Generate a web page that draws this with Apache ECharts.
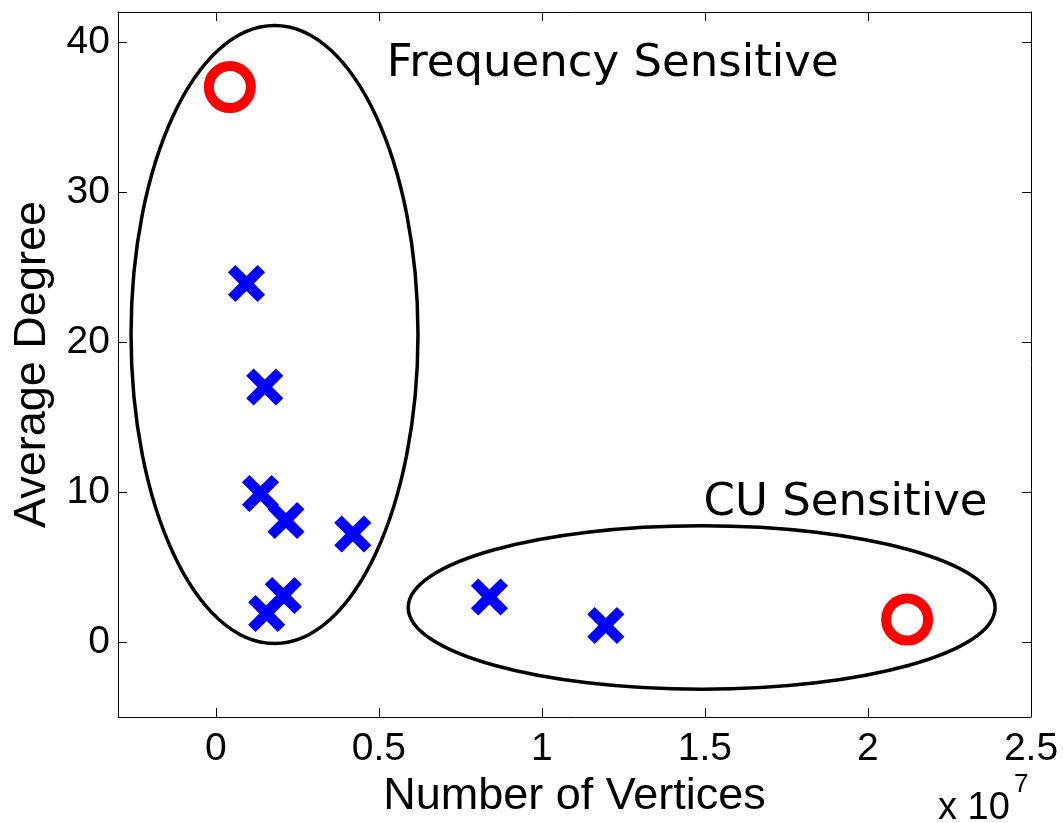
<!DOCTYPE html>
<html>
<head>
<meta charset="utf-8">
<script src="https://cdn.jsdelivr.net/npm/echarts@6/dist/echarts.min.js"></script>
<style>
  html, body { margin: 0; padding: 0; background: #ffffff; }
  #chart { width: 1063px; height: 823px; }
</style>
</head>
<body>
<div id="chart"></div>
<script>
// Graph inputs: number of vertices vs. average degree
const crossVertices  = [0.94e6, 1.50e6, 1.37e6, 2.15e6, 4.20e6, 2.07e6, 1.56e6, 8.39e6, 11.96e6];
const crossDegree    = [23.9, 17.0, 9.9, 8.1, 7.2, 3.1, 1.9, 3.0, 1.1];
const circleVertices = [0.43e6, 21.2e6];
const circleDegree   = [37.0, 1.5];

// Tick values
const xTicks = [0, 5e6, 10e6, 15e6, 20e6, 25e6];
const yTicks = [0, 10, 20, 30, 40];

// Group outlines: [centre vertices, centre degree, half-width, half-height]
const groupEllipses = [
  [1.8e6, 20.5, 4.4e6, 20.6],
  [14.9e6, 2.3, 9.0e6, 5.45]
];
// Group captions: [text, vertices, degree]
const groupCaptions = [
  ['Frequency Sensitive', 5.24e6, 38.5],
  ['CU Sensitive', 14.96e6, 9.27]
];

const pairs = (xs, ys) => xs.map((x, i) => [x, ys[i]]);

// Thick "x" marker: a plus sign turned by 45 degrees
const crossPath = 'path://M37.5,0L62.5,0L62.5,37.5L100,37.5L100,62.5L62.5,62.5L62.5,100L37.5,100L37.5,62.5L0,62.5L0,37.5L37.5,37.5Z';

const sansFont = '"Liberation Sans", Arial, Helvetica, sans-serif';
const textFont = '"DejaVu Sans", sans-serif';

const chart = echarts.init(document.getElementById('chart'), null, { renderer: 'canvas' });

const baseX = {
  type: 'value', min: -3e6, max: 25e6,
  splitLine: { show: false },
  axisLine: { show: true, onZero: false, lineStyle: { color: '#000', width: 1 } },
  axisTick: { show: true, inside: true, length: 9, customValues: xTicks, lineStyle: { color: '#000', width: 1 } }
};
const baseY = {
  type: 'value', min: -5, max: 42,
  splitLine: { show: false },
  axisLine: { show: true, onZero: false, lineStyle: { color: '#000', width: 1 } },
  axisTick: { show: true, inside: true, length: 9, customValues: yTicks, lineStyle: { color: '#000', width: 1 } }
};

chart.setOption({
  animation: false,
  backgroundColor: '#ffffff',
  grid: { left: 118, top: 12, right: 32, bottom: 106, containLabel: false, outerBoundsMode: 'none' },
  xAxis: [
    Object.assign({}, baseX, {
      position: 'bottom',
      name: 'Number of Vertices',
      nameLocation: 'middle',
      nameGap: 46,
      nameTextStyle: { fontFamily: sansFont, fontSize: 45, color: '#000' },
      axisLabel: {
        show: true, customValues: xTicks, margin: 13,
        fontFamily: sansFont, fontSize: 39, color: '#000',
        formatter: v => String(+(v / 1e7).toFixed(2))
      }
    }),
    Object.assign({}, baseX, { position: 'top', axisLabel: { show: false } })
  ],
  yAxis: [
    Object.assign({}, baseY, {
      position: 'left',
      name: 'Average Degree',
      nameLocation: 'middle',
      nameGap: 63,
      nameTextStyle: { fontFamily: sansFont, fontSize: 45, color: '#000' },
      axisLabel: {
        show: true, customValues: yTicks, margin: 8,
        fontFamily: sansFont, fontSize: 39, color: '#000'
      }
    }),
    Object.assign({}, baseY, { position: 'right', axisLabel: { show: false } })
  ],
  graphic: [
    { type: 'text', left: 938, top: 790, style: { text: 'x 10', font: '38px ' + sansFont, fill: '#000' } },
    { type: 'text', left: 1014, top: 772, style: { text: '7', font: '26px ' + sansFont, fill: '#000' } }
  ],
  series: [
    {
      name: 'groups',
      type: 'custom',
      xAxisIndex: 0, yAxisIndex: 0,
      data: groupEllipses,
      silent: true,
      renderItem: (params, api) => {
        const c = api.coord([api.value(0), api.value(1)]);
        const s = api.size([api.value(2), api.value(3)]);
        return {
          type: 'ellipse',
          shape: { cx: c[0], cy: c[1], rx: s[0], ry: s[1] },
          style: { fill: 'none', stroke: '#000', lineWidth: 3.5 }
        };
      },
      z: 2
    },
    {
      name: 'cross',
      type: 'scatter',
      data: pairs(crossVertices, crossDegree),
      symbol: crossPath,
      symbolSize: 42,
      symbolRotate: 45,
      itemStyle: { color: '#0000ff', opacity: 1 },
      z: 3
    },
    {
      name: 'circle',
      type: 'scatter',
      data: pairs(circleVertices, circleDegree),
      symbol: 'circle',
      symbolSize: 42,
      itemStyle: { color: 'rgba(0,0,0,0)', borderColor: '#ff0000', borderWidth: 10, opacity: 1 },
      z: 3
    },
    {
      name: 'captions',
      type: 'custom',
      xAxisIndex: 0, yAxisIndex: 0,
      silent: true,
      data: groupCaptions.map(c => [c[1], c[2]]),
      renderItem: (params, api) => {
        const p = api.coord([api.value(0), api.value(1)]);
        return {
          type: 'text',
          x: p[0], y: p[1],
          style: {
            text: groupCaptions[params.dataIndex][0],
            font: '45px ' + textFont,
            fill: '#000000',
            align: 'left',
            verticalAlign: 'middle'
          }
        };
      },
      z: 4
    }
  ]
});
</script>
</body>
</html>
